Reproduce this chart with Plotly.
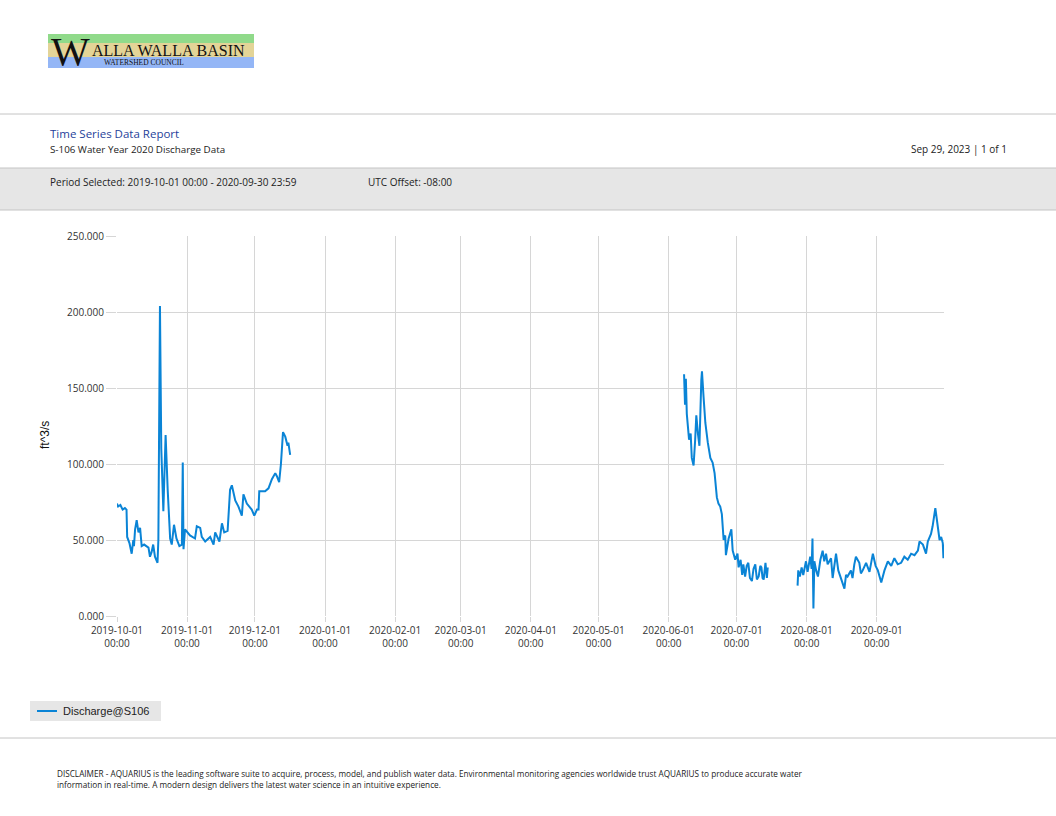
# S-106 Water Year 2020 discharge report, rebuilt as a single Plotly page.
import plotly.graph_objects as go

W, H = 1056, 816

# --- data (15-min record, thinned to the visible shape) ---
# fall segment: 2019-10-01 .. 2019-12-16
fall_dates = [
    "2019-10-01 00:00", "2019-10-01 12:00", "2019-10-02 12:00", "2019-10-03 12:00",
    "2019-10-04 12:00", "2019-10-05 05:00", "2019-10-05 12:00", "2019-10-06 12:00",
    "2019-10-07 12:00", "2019-10-08 05:00", "2019-10-08 12:00", "2019-10-09 00:00",
    "2019-10-09 17:00", "2019-10-10 12:00", "2019-10-11 05:00", "2019-10-11 22:00",
    "2019-10-13 00:00", "2019-10-14 22:00", "2019-10-15 14:00", "2019-10-16 07:00",
    "2019-10-17 00:00", "2019-10-17 19:00", "2019-10-18 22:00", "2019-10-19 07:00",
    "2019-10-20 00:00", "2019-10-20 14:00", "2019-10-21 12:00", "2019-10-22 12:00",
    "2019-10-23 10:00", "2019-10-24 12:00", "2019-10-25 05:00", "2019-10-26 05:00",
    "2019-10-27 07:00", "2019-10-28 14:00", "2019-10-29 17:00", "2019-10-30 02:00",
    "2019-10-30 10:00", "2019-10-31 02:00", "2019-11-02 07:00", "2019-11-04 12:00",
    "2019-11-05 07:00", "2019-11-06 19:00", "2019-11-07 12:00", "2019-11-09 00:00",
    "2019-11-11 05:00", "2019-11-12 17:00", "2019-11-13 10:00", "2019-11-15 07:00",
    "2019-11-16 10:00", "2019-11-17 10:00", "2019-11-18 22:00", "2019-11-20 00:00",
    "2019-11-20 19:00", "2019-11-22 07:00", "2019-11-23 17:00", "2019-11-25 05:00",
    "2019-11-25 22:00", "2019-11-27 10:00", "2019-11-29 14:00", "2019-11-30 17:00",
    "2019-12-01 22:00", "2019-12-02 14:00", "2019-12-02 22:00", "2019-12-05 12:00",
    "2019-12-07 00:00", "2019-12-08 12:00", "2019-12-10 00:00", "2019-12-10 17:00",
    "2019-12-11 17:00", "2019-12-12 12:00", "2019-12-13 10:00", "2019-12-14 10:00",
    "2019-12-15 10:00", "2019-12-15 19:00", "2019-12-16 14:00",
]
fall_q = [
    74, 72, 73, 70,
    71, 70, 52, 48,
    41, 50, 46, 57,
    63, 55, 58, 46,
    47, 45, 39, 42,
    47, 39, 35, 50,
    204, 110, 69, 119,
    83, 51, 47, 60,
    51, 46, 47, 101,
    44, 57, 53, 51,
    59, 58, 52, 49,
    52, 47, 55, 49,
    61, 55, 56, 83,
    86, 76, 72, 66,
    80, 74, 70, 66,
    70, 70, 82, 82,
    84, 90, 94, 92,
    88, 100, 121, 118,
    112, 114, 106,
]

# early summer segment: 2020-06-07 .. 2020-07-14
summer_dates = [
    "2020-06-07 19:00", "2020-06-08 05:00", "2020-06-08 14:00", "2020-06-09 00:00",
    "2020-06-10 00:00", "2020-06-10 17:00", "2020-06-11 05:00", "2020-06-12 00:00",
    "2020-06-12 17:00", "2020-06-13 05:00", "2020-06-13 22:00", "2020-06-14 14:00",
    "2020-06-15 10:00", "2020-06-15 17:00", "2020-06-16 10:00", "2020-06-17 05:00",
    "2020-06-18 07:00", "2020-06-19 10:00", "2020-06-20 10:00", "2020-06-21 07:00",
    "2020-06-22 07:00", "2020-06-23 00:00", "2020-06-23 19:00", "2020-06-24 12:00",
    "2020-06-25 07:00", "2020-06-26 00:00", "2020-06-26 07:00", "2020-06-27 12:00",
    "2020-06-28 17:00", "2020-06-29 07:00", "2020-06-30 10:00", "2020-07-01 10:00",
    "2020-07-01 22:00", "2020-07-02 19:00", "2020-07-03 12:00", "2020-07-04 00:00",
    "2020-07-04 19:00", "2020-07-05 12:00", "2020-07-06 05:00", "2020-07-06 22:00",
    "2020-07-07 19:00", "2020-07-08 12:00", "2020-07-09 07:00", "2020-07-10 00:00",
    "2020-07-10 19:00", "2020-07-11 12:00", "2020-07-12 00:00", "2020-07-12 12:00",
    "2020-07-13 00:00", "2020-07-13 19:00", "2020-07-14 10:00", "2020-07-14 19:00",
]
summer_q = [
    159, 139, 156, 133,
    116, 120, 104, 99,
    116, 132, 120, 112,
    155, 161, 144, 127,
    114, 104, 101, 94,
    78, 74, 72, 67,
    50, 53, 40, 51,
    57, 43, 37, 41,
    32, 37, 27, 34,
    26, 33, 35, 25,
    23, 31, 34, 24,
    26, 33, 32, 25,
    24, 35, 25, 32,
]

# late summer segment: 2020-07-28 .. 2020-09-30
late_dates = [
    "2020-07-28 00:00", "2020-07-28 07:00", "2020-07-29 00:00", "2020-07-29 19:00",
    "2020-07-30 12:00", "2020-07-31 17:00", "2020-08-01 10:00", "2020-08-02 14:00",
    "2020-08-03 05:00", "2020-08-03 14:00", "2020-08-04 00:00", "2020-08-04 10:00",
    "2020-08-05 05:00", "2020-08-06 00:00", "2020-08-07 02:00", "2020-08-08 02:00",
    "2020-08-08 19:00", "2020-08-09 14:00", "2020-08-10 07:00", "2020-08-11 19:00",
    "2020-08-12 12:00", "2020-08-13 05:00", "2020-08-14 00:00", "2020-08-15 00:00",
    "2020-08-16 05:00", "2020-08-17 17:00", "2020-08-18 10:00", "2020-08-19 02:00",
    "2020-08-20 14:00", "2020-08-21 07:00", "2020-08-22 02:00", "2020-08-22 19:00",
    "2020-08-24 07:00", "2020-08-25 00:00", "2020-08-25 19:00", "2020-08-27 07:00",
    "2020-08-28 19:00", "2020-08-30 07:00", "2020-08-31 12:00", "2020-09-01 12:00",
    "2020-09-03 00:00", "2020-09-04 10:00", "2020-09-05 22:00", "2020-09-07 10:00",
    "2020-09-08 19:00", "2020-09-10 07:00", "2020-09-11 19:00", "2020-09-13 05:00",
    "2020-09-14 17:00", "2020-09-16 05:00", "2020-09-17 17:00", "2020-09-19 05:00",
    "2020-09-19 22:00", "2020-09-21 10:00", "2020-09-22 19:00", "2020-09-23 14:00",
    "2020-09-25 00:00", "2020-09-25 17:00", "2020-09-26 22:00", "2020-09-27 19:00",
    "2020-09-28 19:00", "2020-09-29 12:00", "2020-09-30 05:00", "2020-09-30 12:00",
    "2020-09-30 17:00",
]
late_q = [
    20, 30, 26, 32,
    27, 36, 29, 39,
    31, 51, 5, 36,
    30, 26, 37, 43,
    36, 41, 34, 38,
    25, 33, 41, 30,
    24, 18, 27, 26,
    30, 25, 34, 39,
    35, 28, 30, 35,
    29, 41, 33, 30,
    22, 30, 36, 33,
    38, 34, 35, 39,
    37, 41, 40, 43,
    49, 47, 41, 49,
    54, 59, 71, 61,
    50, 52, 48, 38,
    47,
]

y_ticks = [0, 50, 100, 150, 200, 250]

# gaps in the record are left as breaks in the line
x_all = fall_dates + [None] + summer_dates + [None] + late_dates
y_all = fall_q + [None] + summer_q + [None] + late_q

LINE_BLUE = "#0a84d6"
GRID = "#d6d6d6"
RULE = "#c4c4c4"
HEAD_FONT = "Open Sans"


def px(x):
    return x / W


def py(y):
    return 1 - y / H


fig = go.Figure()

fig.add_trace(
    go.Scatter(
        x=x_all,
        y=y_all,
        mode="lines",
        name="Discharge@S106",
        line=dict(color=LINE_BLUE, width=2),
        connectgaps=False,
        showlegend=False,
    )
)

fig.update_layout(
    width=W,
    height=H,
    margin=dict(l=0, r=0, t=0, b=0, autoexpand=False),
    paper_bgcolor="white",
    plot_bgcolor="white",
    font=dict(family=HEAD_FONT, size=10, color="#333333"),
)

# the axis stops just short of 2020-10-01 so that month gets no tick label
fig.update_xaxes(
    domain=[px(117), px(944)],
    range=["2019-10-01", "2020-09-30 18:00"],
    type="date",
    tick0="2019-10-01",
    dtick="M1",
    tickformat="%Y-%m-%d<br>%H:%M",
    showgrid=True,
    gridcolor=GRID,
    gridwidth=1,
    ticks="outside",
    ticklen=5,
    tickcolor=GRID,
    showline=False,
    zeroline=False,
    automargin=False,
    tickfont=dict(family=HEAD_FONT, size=10, color="#333333"),
)
fig.update_yaxes(
    domain=[py(616), py(236)],
    range=[0, 250],
    tickvals=y_ticks,
    tickformat=".3f",
    showgrid=True,
    gridcolor=GRID,
    gridwidth=1,
    ticks="outside",
    ticklen=10,
    tickcolor=GRID,
    showline=False,
    zeroline=False,
    automargin=False,
    tickfont=dict(family=HEAD_FONT, size=10, color="#333333"),
)

# --- page furniture: logo, header bands, rules, legend box ---
shapes = [
    # logo colour bands
    dict(type="rect", xref="paper", yref="paper", x0=px(48), x1=px(254), y0=py(43), y1=py(34),
         fillcolor="#90da8a", line=dict(width=0), layer="below"),
    dict(type="rect", xref="paper", yref="paper", x0=px(48), x1=px(254), y0=py(57), y1=py(43),
         fillcolor="#e3d497", line=dict(width=0), layer="below"),
    dict(type="rect", xref="paper", yref="paper", x0=px(48), x1=px(254), y0=py(68), y1=py(57),
         fillcolor="#94b6f6", line=dict(width=0), layer="below"),
    # rule under the logo
    dict(type="line", xref="paper", yref="paper", x0=0, x1=1, y0=py(114), y1=py(114),
         line=dict(color=RULE, width=1)),
    # grey period band
    dict(type="rect", xref="paper", yref="paper", x0=0, x1=1, y0=py(210), y1=py(168),
         fillcolor="#e6e6e6", line=dict(width=0), layer="below"),
    dict(type="line", xref="paper", yref="paper", x0=0, x1=1, y0=py(168), y1=py(168),
         line=dict(color=RULE, width=1)),
    dict(type="line", xref="paper", yref="paper", x0=0, x1=1, y0=py(210), y1=py(210),
         line=dict(color=RULE, width=1)),
    # legend box with its line sample
    dict(type="rect", xref="paper", yref="paper", x0=px(30), x1=px(161), y0=py(721), y1=py(701),
         fillcolor="#e6e6e6", line=dict(width=0), layer="below"),
    dict(type="line", xref="paper", yref="paper", x0=px(37), x1=px(57), y0=py(711), y1=py(711),
         line=dict(color=LINE_BLUE, width=2)),
    # rule above the disclaimer
    dict(type="line", xref="paper", yref="paper", x0=0, x1=1, y0=py(738), y1=py(738),
         line=dict(color=RULE, width=1)),
]
fig.update_layout(shapes=shapes)


def note(x, y, text, size=10, color="#222222", family=HEAD_FONT, anchor="left", **kw):
    fig.add_annotation(
        xref="paper", yref="paper", x=px(x), y=py(y), text=text, showarrow=False,
        xanchor=anchor, yanchor="middle", align=anchor, borderpad=0,
        font=dict(family=family, size=size, color=color), **kw,
    )


# logo lettering
note(91, 51, "W", size=41, color="#111111", family="Liberation Serif", anchor="right")
note(91, 50, "ALLA WALLA BASIN", size=16, color="#111111", family="Liberation Serif")
note(103, 63, "WATERSHED COUNCIL", size=7.5, color="#111111", family="Liberation Serif")

# report header
note(49, 134, "Time Series Data Report", size=11.5, color="#1f3f9a")
note(49, 149, "S-106 Water Year 2020 Discharge Data", size=9.8)
note(1008, 149, "Sep 29, 2023 | 1 of 1", size=10, anchor="right")
note(49, 182, "Period Selected: 2019-10-01 00:00 - 2020-09-30 23:59", size=10)
note(367, 182, "UTC Offset: -08:00", size=10)

# y axis title
note(45, 435, "ft^3/s", size=12, color="#111111", family="Liberation Sans", anchor="center",
     textangle=-90)

# legend label
note(62, 711, "Discharge@S106", size=11, color="#222222", family="Liberation Sans")

# disclaimer
note(
    56, 779,
    "DISCLAIMER - AQUARIUS is the leading software suite to acquire, process, model, and publish "
    "water data. Environmental monitoring agencies worldwide trust AQUARIUS to produce accurate water"
    "<br>information in real-time. A modern design delivers the latest water science in an intuitive "
    "experience.",
    size=8.2,
)

# the report is a full page, so drop the browser's default body margin
fig.write_html(
    "out.html",
    config={"displayModeBar": False},
    post_script="document.body.style.margin = '0';",
)
